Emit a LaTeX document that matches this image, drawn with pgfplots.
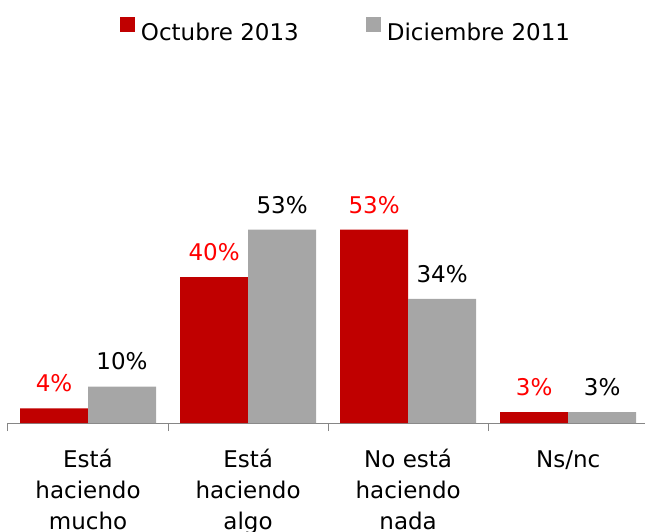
\documentclass[border=0pt]{standalone}
\usepackage{pgfplots}
\pgfplotsset{compat=1.18}
\usepackage{fontspec}
\setmainfont{DejaVu Sans}
\definecolor{barred}{RGB}{192,0,0}
\definecolor{bargray}{RGB}{166,166,166}
\definecolor{labred}{RGB}{255,0,0}
\definecolor{axgray}{RGB}{134,134,134}
\pgfplotsset{sqlegend/.style={legend image code/.code={\fill[##1,draw=none] (0pt,1pt) rectangle (15pt,16pt);}}}
\begin{document}
\begin{tikzpicture}
\useasboundingbox (0,0) rectangle (645pt,531pt);
\begin{axis}[
  at={(8pt,108pt)}, anchor=south west,
  scale only axis, width=637pt, height=219pt,
  xmin=-0.5, xmax=3.48, ymin=0, ymax=60,
  ybar=0pt, bar width=68pt,
  hide y axis, axis x line*=bottom,
  x axis line style={draw=axgray, line width=1pt},
  xtick={0,1,2,3}, major tick length=0pt,
  xticklabels={{Está\\haciendo\\mucho},{Está\\haciendo\\algo},{No está\\haciendo\\nada},{Ns/nc\vphantom{á}}},
  xticklabel style={align=center, anchor=north, inner sep=0pt, yshift=-26pt, font=\fontsize{23}{31}\selectfont},
  extra x ticks={-0.5,0.5,1.5,2.5}, extra x tick labels={},
  extra x tick style={major tick length=8pt, tick align=outside, tick style={draw=axgray, line width=1pt}},
  nodes near coords={\pgfmathprintnumber{\pgfplotspointmeta}\%},
  /pgf/number format/assume math mode=true,
  every node near coord/.append style={font=\fontsize{23}{28}\selectfont, inner sep=0pt, anchor=south, yshift=16pt},
  clip=false,
  legend columns=2,
  legend style={draw=none, fill=none, inner sep=0pt, outer sep=0pt,
    at={(0.1758,1.856)}, anchor=north west,
    nodes={inner sep=0pt, font=\fontsize{23}{28}\selectfont},
    /tikz/every odd column/.append style={column sep=6pt},
    /tikz/every even column/.append style={column sep=67pt}},
]
\addplot[fill=barred, draw=none, sqlegend, every node near coord/.append style={text=labred}]
  coordinates {(0,4) (1,40) (2,53) (3,3)};
\addplot[fill=bargray, draw=none, sqlegend, every node near coord/.append style={text=black}]
  coordinates {(0,10) (1,53) (2,34) (3,3)};
\legend{Octubre 2013, Diciembre 2011}
\end{axis}
\end{tikzpicture}
\end{document}
